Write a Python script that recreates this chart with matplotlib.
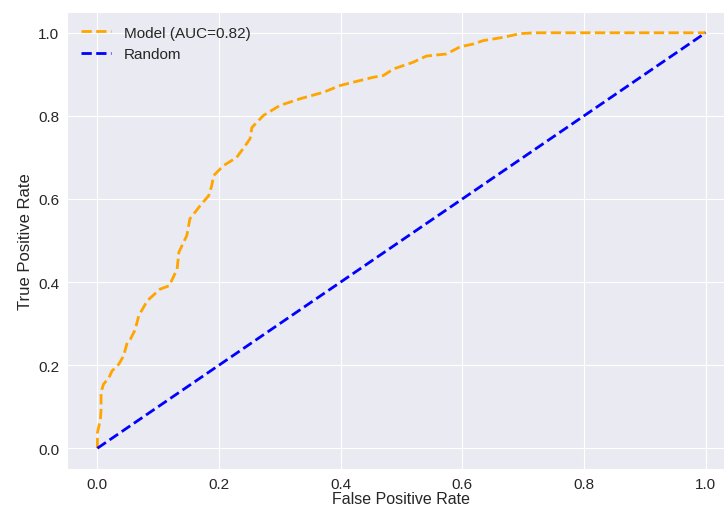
import matplotlib
matplotlib.use('Agg')
import matplotlib.pyplot as plt
import seaborn as sns

# ROC curve points
fpr = [0.0, 0.0, 0.005, 0.006, 0.006, 0.01, 0.019, 0.024, 0.035, 0.043, 0.049,
       0.054, 0.062, 0.068, 0.082, 0.103, 0.118, 0.131, 0.134, 0.147, 0.152,
       0.169, 0.183, 0.188, 0.191, 0.207, 0.229, 0.243, 0.251, 0.254, 0.273,
       0.300, 0.333, 0.372, 0.399, 0.426, 0.454, 0.470, 0.487, 0.519, 0.541,
       0.574, 0.596, 0.618, 0.634, 0.667, 0.695, 0.72, 1.0]
tpr = [0.0, 0.037, 0.07, 0.094, 0.135, 0.154, 0.170, 0.186, 0.202, 0.222, 0.254,
       0.262, 0.285, 0.319, 0.355, 0.383, 0.391, 0.431, 0.472, 0.512, 0.552,
       0.584, 0.608, 0.632, 0.656, 0.680, 0.700, 0.728, 0.745, 0.772, 0.801,
       0.825, 0.841, 0.857, 0.873, 0.883, 0.893, 0.897, 0.913, 0.929, 0.944,
       0.949, 0.966, 0.973, 0.981, 0.989, 0.998, 1.0, 1.0]
auc = 0.82

sns.set_style('darkgrid')
plt.rcParams['font.family'] = ['Liberation Sans', 'DejaVu Sans']

fig = plt.figure(figsize=(7.24, 5.10), dpi=100)
ax = fig.add_axes([67 / 724, 40 / 510, 669 / 724, 457 / 510])

ax.plot(fpr, tpr, color='orange', linestyle='--', linewidth=2, label=f'Model (AUC={auc:.2f})')
ax.plot([0, 1], [0, 1], color='blue', linestyle='--', linewidth=2, label='Random')

# the reference crops the x label at the bottom edge; keep it tight so it stays visible
ax.set_xlabel('False Positive Rate', fontsize=11.5, color='.15', labelpad=0.5)
ax.set_ylabel('True Positive Rate', fontsize=12, color='.15')
ax.tick_params(labelsize=11, colors='.15', pad=2)
ax.legend(loc='upper left', fontsize=11, frameon=False)

fig.savefig('out.png', dpi=100)
